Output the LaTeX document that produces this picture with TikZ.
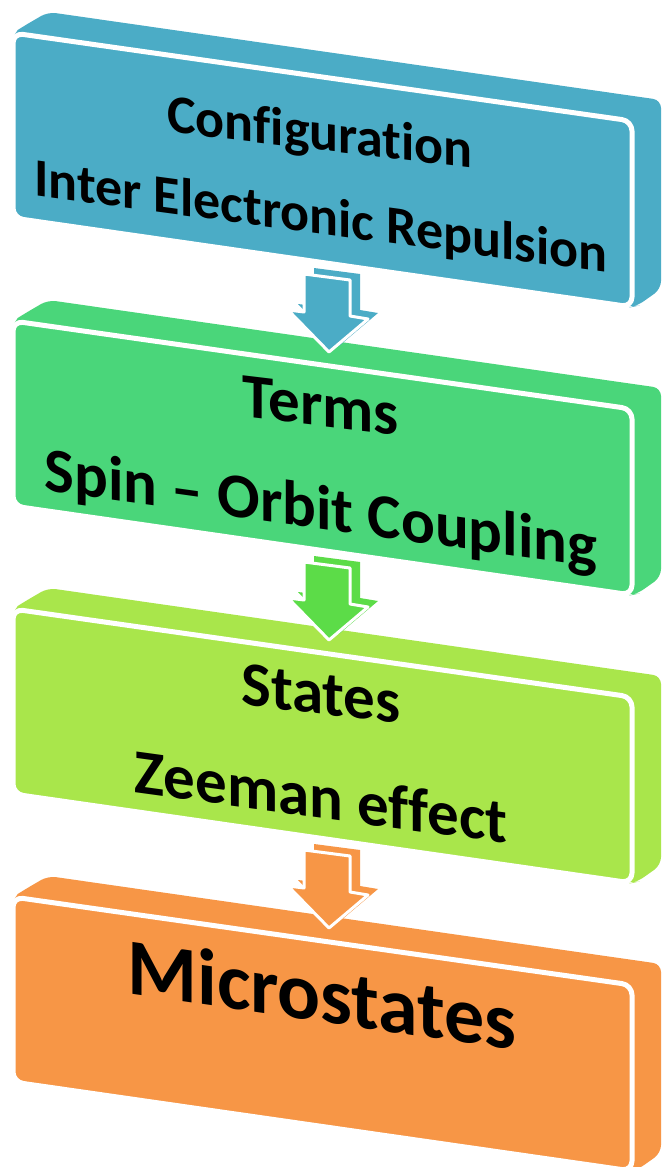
\documentclass[tikz,border=0pt]{standalone}
\usepackage{fontspec}
\setmainfont{Carlito}[Ligatures=NoCommon]
\usetikzlibrary{calc}
\definecolor{cblue}{HTML}{4BACC6}
\definecolor{cgreen}{HTML}{4AD67A}
\definecolor{clime}{HTML}{A9E64B}
\definecolor{corange}{HTML}{F79646}
\definecolor{agreen}{HTML}{5CDC48}
\tikzset{
  solidbody/.style={fill=#1, rounded corners=8pt},
  frontface/.style={fill=#1, draw=white, line width=5pt, rounded corners=10pt, line join=round},
  arrowback/.style={fill=#1, line join=round},
  arrowfront/.style={fill=#1, draw=white, line width=3pt, line join=round},
  lbl/.style={font=\fontsize{54}{60}\selectfont\bfseries, text=black, inner sep=0pt, anchor=base},
  midlbl/.style={lbl, font=\fontsize{63}{70}\selectfont\bfseries},
  biglbl/.style={lbl, font=\fontsize{80}{90}\selectfont\bfseries}
}
\begin{document}
\begin{tikzpicture}[x=1pt, y=-1pt]
\useasboundingbox (0,0) rectangle (663,1167);
\fill[white] (0,0) rectangle (663,1167);
% boxes
\foreach \i/\c in {0/cblue,1/cgreen,2/clime,3/corange}{
  \begin{scope}[shift={(0,288*\i)}]
    \path[solidbody=\c] (13,218) -- (13,33) -- (24,26) -- (48,12) -- (661,100) -- (661,289) -- (637,306) -- (632,307) -- cycle;
    \path[frontface=\c] (13,33) -- (632,121) -- (632,307) -- (13,218) -- cycle;
  \end{scope}
}
% arrows
\foreach \i/\c in {0/cblue,1/agreen,2/corange}{
  \begin{scope}[shift={(0,288*\i)}]
    \begin{scope}[shift={(10,-6)}]
      \path[arrowback=\c] (304,274) -- (350,280) -- (350,316) -- (368,319) -- (329,352) -- (288,310) -- (304,312) -- cycle;
    \end{scope}
    \path[arrowfront=\c] (304,274) -- (350,280) -- (350,316) -- (368,319) -- (329,352) -- (288,310) -- (304,312) -- cycle;
  \end{scope}
}
% labels
\node[lbl, yslant=-0.12] (c1) at (320,150) {Configuration};
\node[lbl, yslant=-0.135] (r1) at (321,234) {Inter Electronic Repulsion};
\node[midlbl, yslant=-0.12] (t2) at (321,426) {Terms};
\node[midlbl, yslant=-0.14] (s2) at (321,529) {Spin – Orbit Coupling};
\node[midlbl, yslant=-0.12] (s3) at (321,714) {States};
\node[midlbl, yslant=-0.137] (z3) at (321,818) {Zeeman effect};
\node[biglbl, yslant=-0.146] (m4) at (322,1022) {Microstates};
\end{tikzpicture}
\end{document}
